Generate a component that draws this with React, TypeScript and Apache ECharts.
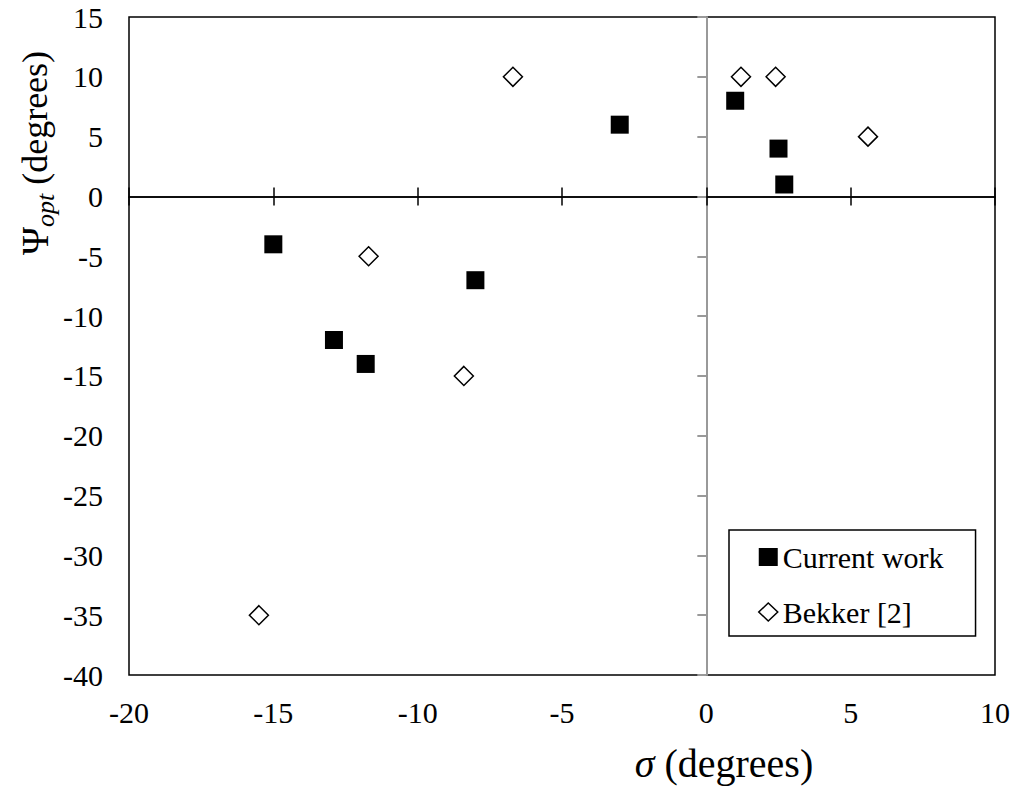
import React, { useEffect, useRef } from "react";
import * as echarts from "echarts";

const FONT = "Liberation Serif";

const currentWork: [number, number][] = [
  [1.0, 8],
  [-3.0, 6],
  [2.5, 4],
  [2.7, 1],
  [-15, -4],
  [-8, -7],
  [-12.9, -12],
  [-11.8, -14],
];

const bekker: [number, number][] = [
  [1.2, 10],
  [2.4, 10],
  [5.6, 5],
  [-6.7, 10],
  [-11.7, -5],
  [-8.4, -15],
  [-15.5, -35],
];

const xRange = { min: -20, max: 10, interval: 5 };
const yRange = { min: -40, max: 15, interval: 5 };

export default function App() {
  const ref = useRef<HTMLDivElement>(null);
  useEffect(() => {
    if (!ref.current) return;
    const chart = echarts.init(ref.current, undefined, { renderer: "svg" });
    const labelStyle = { fontFamily: FONT, fontSize: 30, color: "#000" };
    const hiddenAxisBase = {
      type: "value" as const,
      ...xRange,
      splitLine: { show: false },
      axisLabel: { show: false },
    };
    chart.setOption({
      animation: false,
      backgroundColor: "#fff",
      grid: {
        left: 129,
        top: 17,
        right: 24,
        bottom: 112,
        show: true,
        borderColor: "#000",
        borderWidth: 1.5,
        backgroundColor: "transparent",
      },
      xAxis: [
        {
          type: "value",
          ...xRange,
          position: "bottom",
          axisLine: { show: false, onZero: false },
          axisTick: { show: false },
          splitLine: { show: false },
          axisLabel: { ...labelStyle, margin: 22 },
        },
        {
          ...hiddenAxisBase,
          position: "bottom",
          axisLine: { show: true, onZero: true, lineStyle: { color: "#000", width: 1.5 } },
          axisTick: { show: true, inside: false, length: 9, lineStyle: { color: "#000", width: 1.5 } },
        },
        {
          ...hiddenAxisBase,
          position: "bottom",
          axisLine: { show: true, onZero: true, lineStyle: { color: "#000", width: 1.5 } },
          axisTick: { show: true, inside: true, length: 9, lineStyle: { color: "#000", width: 1.5 } },
        },
      ],
      yAxis: [
        {
          type: "value",
          ...yRange,
          position: "left",
          axisLine: { show: false, onZero: false },
          axisTick: { show: false },
          splitLine: { show: false },
          axisLabel: { ...labelStyle, margin: 26 },
        },
        {
          type: "value",
          ...yRange,
          position: "left",
          axisLine: { show: true, onZero: true, lineStyle: { color: "#999", width: 2 } },
          axisTick: { show: true, inside: false, length: 9, lineStyle: { color: "#999", width: 2 } },
          axisLabel: { show: false },
          splitLine: { show: false },
        },
      ],
      legend: {
        orient: "vertical",
        left: 729,
        top: 530,
        padding: [12, 32, 9, 29],
        itemGap: 25,
        itemWidth: 19,
        itemHeight: 18,
        backgroundColor: "#fff",
        borderColor: "#000",
        borderWidth: 1.5,
        borderRadius: 0,
        selectedMode: false,
        textStyle: { fontFamily: FONT, fontSize: 30, color: "#000", padding: [0, 0, 0, 0] },
        data: [
          {
            name: "Current work",
            icon: "rect",
            itemStyle: { color: "#000", borderWidth: 0, opacity: 1 },
          },
          {
            name: "Bekker [2]",
            icon: "diamond",
            itemStyle: { color: "#fff", borderColor: "#000", borderWidth: 1.5, opacity: 1 },
          },
        ],
      },
      graphic: [
        {
          type: "text",
          x: 724,
          y: 763,
          z: 10,
          style: {
            text: "{i|σ} (degrees)",
            fontFamily: FONT,
            fontSize: 40,
            fill: "#000",
            align: "center",
            verticalAlign: "middle",
            rich: {
              i: { fontFamily: FONT, fontSize: 40, fontStyle: "italic", fill: "#000" },
            },
          },
        },
        {
          type: "text",
          x: 35,
          y: 153,
          z: 10,
          rotation: Math.PI / 2,
          style: {
            text: "{p|Ψ}{s|opt} (degrees)",
            fontFamily: FONT,
            fontSize: 36,
            fill: "#000",
            align: "center",
            verticalAlign: "middle",
            rich: {
              p: { fontFamily: FONT, fontSize: 38, lineHeight: 46, fill: "#000" },
              s: {
                fontFamily: FONT,
                fontSize: 26,
                fontStyle: "italic",
                lineHeight: 26,
                verticalAlign: "bottom",
                fill: "#000",
              },
            },
          },
        },
      ],
      series: [
        {
          name: "Current work",
          type: "scatter",
          xAxisIndex: 0,
          yAxisIndex: 0,
          symbol: "rect",
          symbolSize: 18,
          itemStyle: { color: "#000", opacity: 1 },
          data: currentWork,
          z: 5,
        },
        {
          name: "Bekker [2]",
          type: "scatter",
          xAxisIndex: 0,
          yAxisIndex: 0,
          symbol: "diamond",
          symbolSize: 19,
          itemStyle: { color: "#fff", borderColor: "#000", borderWidth: 1.5, opacity: 1 },
          data: bekker,
          z: 5,
        },
      ],
    });
    return () => chart.dispose();
  }, []);
  return (
    <div
      ref={ref}
      style={{ position: "fixed", left: 0, top: 0, width: 1019, height: 787, background: "#fff" }}
    />
  );
}
